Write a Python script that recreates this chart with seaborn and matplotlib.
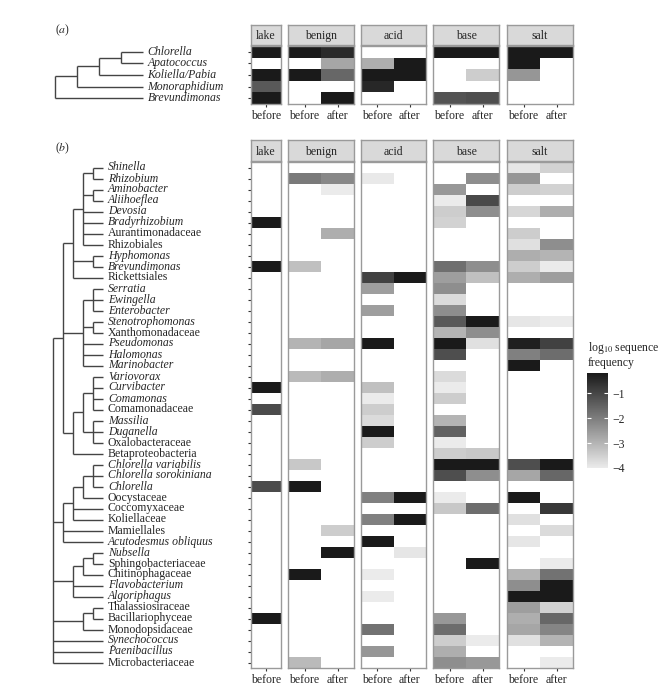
import numpy as np
import pandas as pd
import matplotlib
matplotlib.use("Agg")
import matplotlib.pyplot as plt
import seaborn as sns
from matplotlib.colors import LinearSegmentedColormap
from matplotlib.transforms import blended_transform_factory

sns.set_style("white")
plt.rcParams["font.family"] = ["Liberation Serif", "DejaVu Serif"]
plt.rcParams["mathtext.fontset"] = "stix"

# ---- data ----
conditions = ["lake", "benign", "acid", "base", "salt"]
times = {"lake": ["before"], "benign": ["before", "after"], "acid": ["before", "after"],
         "base": ["before", "after"], "salt": ["before", "after"]}

# panel (a): algae taxa, log10 sequence frequency
taxa_a = ["Chlorella", "Apatococcus", "Koliella/Pabia", "Monoraphidium", "Brevundimonas"]
a_values = {
    ("lake", "before"): {"Chlorella": -0.2, "Koliella/Pabia": -0.2, "Monoraphidium": -1.35, "Brevundimonas": -0.2},
    ("benign", "before"): {"Chlorella": -0.2, "Koliella/Pabia": -0.2},
    ("benign", "after"): {"Chlorella": -0.5, "Apatococcus": -2.75, "Koliella/Pabia": -1.6, "Brevundimonas": -0.2},
    ("acid", "before"): {"Apatococcus": -2.9, "Koliella/Pabia": -0.2, "Monoraphidium": -0.45},
    ("acid", "after"): {"Apatococcus": -0.2, "Koliella/Pabia": -0.2},
    ("base", "before"): {"Chlorella": -0.2, "Brevundimonas": -1.25},
    ("base", "after"): {"Chlorella": -0.2, "Koliella/Pabia": -3.45, "Brevundimonas": -1.15},
    ("salt", "before"): {"Chlorella": -0.2, "Apatococcus": -0.2, "Koliella/Pabia": -2.45},
    ("salt", "after"): {"Chlorella": -0.2},
}
# tree (a): (rank level, children)
tree_a = (0, [(1, [(2, [(3, ["Chlorella", "Apatococcus"]), "Koliella/Pabia"]), "Monoraphidium"]), "Brevundimonas"])

# panel (b)
taxa_b = ["Shinella", "Rhizobium", "Aminobacter", "Aliihoeflea", "Devosia", "Bradyrhizobium",
          "Aurantimonadaceae", "Rhizobiales", "Hyphomonas", "Brevundimonas", "Rickettsiales",
          "Serratia", "Ewingella", "Enterobacter", "Stenotrophomonas", "Xanthomonadaceae",
          "Pseudomonas", "Halomonas", "Marinobacter", "Variovorax", "Curvibacter", "Comamonas",
          "Comamonadaceae", "Massilia", "Duganella", "Oxalobacteraceae", "Betaproteobacteria",
          "Chlorella variabilis", "Chlorella sorokiniana", "Chlorella", "Oocystaceae",
          "Coccomyxaceae", "Koliellaceae", "Mamiellales", "Acutodesmus obliquus", "Nubsella",
          "Sphingobacteriaceae", "Chitinophagaceae", "Flavobacterium", "Algoriphagus",
          "Thalassiosiraceae", "Bacillariophyceae", "Monodopsidaceae", "Synechococcus",
          "Paenibacillus", "Microbacteriaceae"]
upright_b = ["Aurantimonadaceae", "Rhizobiales", "Rickettsiales", "Xanthomonadaceae", "Comamonadaceae",
             "Oxalobacteraceae", "Betaproteobacteria", "Oocystaceae", "Coccomyxaceae", "Koliellaceae",
             "Mamiellales", "Sphingobacteriaceae", "Chitinophagaceae", "Thalassiosiraceae",
             "Bacillariophyceae", "Monodopsidaceae", "Microbacteriaceae"]

b_lake_before = {"Bradyrhizobium": -0.2, "Brevundimonas": -0.2, "Curvibacter": -0.2,
                 "Comamonadaceae": -1.1, "Chlorella": -1.1, "Bacillariophyceae": -0.2}
b_benign_before = {"Rhizobium": -1.95, "Brevundimonas": -3.2, "Pseudomonas": -3.0, "Variovorax": -3.1,
                   "Chlorella variabilis": -3.35, "Chlorella": -0.2, "Chitinophagaceae": -0.2,
                   "Microbacteriaceae": -3.1}
b_benign_after = {"Rhizobium": -2.2, "Aminobacter": -4.0, "Aurantimonadaceae": -2.9, "Pseudomonas": -2.75,
                  "Variovorax": -2.9, "Mamiellales": -3.45, "Nubsella": -0.2}
b_acid_before = {"Rhizobium": -3.95, "Rickettsiales": -0.9, "Serratia": -2.6, "Enterobacter": -2.6,
                 "Pseudomonas": -0.2, "Curvibacter": -3.2, "Comamonas": -4.0, "Comamonadaceae": -3.45,
                 "Massilia": -3.7, "Duganella": -0.2, "Oxalobacteraceae": -3.45, "Oocystaceae": -2.05,
                 "Koliellaceae": -2.05, "Acutodesmus obliquus": -0.2, "Chitinophagaceae": -4.0,
                 "Algoriphagus": -4.0, "Monodopsidaceae": -1.8, "Paenibacillus": -2.45}
b_acid_after = {"Rickettsiales": -0.2, "Oocystaceae": -0.2, "Koliellaceae": -0.2, "Nubsella": -3.9}
b_base_before = {"Aminobacter": -2.5, "Aliihoeflea": -4.0, "Devosia": -3.45, "Bradyrhizobium": -3.55,
                 "Brevundimonas": -1.75, "Rickettsiales": -2.6, "Serratia": -2.3, "Ewingella": -3.7,
                 "Enterobacter": -2.3, "Stenotrophomonas": -1.35, "Xanthomonadaceae": -3.0,
                 "Pseudomonas": -0.2, "Halomonas": -1.15, "Variovorax": -3.7, "Curvibacter": -4.0,
                 "Comamonas": -3.45, "Massilia": -3.0, "Duganella": -1.5, "Oxalobacteraceae": -4.0,
                 "Betaproteobacteria": -3.45, "Chlorella variabilis": -0.2, "Chlorella sorokiniana": -1.15,
                 "Oocystaceae": -4.0, "Coccomyxaceae": -3.35, "Bacillariophyceae": -2.5,
                 "Monodopsidaceae": -1.7, "Synechococcus": -3.45, "Paenibacillus": -2.9,
                 "Microbacteriaceae": -2.3}
b_base_after = {"Rhizobium": -2.3, "Aliihoeflea": -1.05, "Devosia": -2.3, "Brevundimonas": -2.3,
                "Rickettsiales": -3.2, "Stenotrophomonas": -0.2, "Xanthomonadaceae": -2.3,
                "Pseudomonas": -3.8, "Betaproteobacteria": -3.35, "Chlorella variabilis": -0.2,
                "Chlorella sorokiniana": -2.3, "Coccomyxaceae": -1.7, "Sphingobacteriaceae": -0.2,
                "Synechococcus": -4.0, "Microbacteriaceae": -2.5}
b_salt_before = {"Shinella": -3.9, "Rhizobium": -2.45, "Aminobacter": -3.45, "Devosia": -3.6,
                 "Aurantimonadaceae": -3.45, "Rhizobiales": -3.8, "Hyphomonas": -2.9,
                 "Brevundimonas": -3.45, "Rickettsiales": -2.9, "Stenotrophomonas": -3.9,
                 "Pseudomonas": -0.3, "Halomonas": -2.05, "Marinobacter": -0.2,
                 "Chlorella variabilis": -1.15, "Chlorella sorokiniana": -2.75, "Oocystaceae": -0.2,
                 "Koliellaceae": -3.8, "Acutodesmus obliquus": -3.9, "Chitinophagaceae": -3.0,
                 "Flavobacterium": -2.3, "Algoriphagus": -0.2, "Thalassiosiraceae": -2.6,
                 "Bacillariophyceae": -2.9, "Monodopsidaceae": -2.75, "Synechococcus": -3.8}
b_salt_after = {"Shinella": -3.55, "Aminobacter": -3.55, "Devosia": -2.9, "Rhizobiales": -2.3,
                "Hyphomonas": -3.0, "Brevundimonas": -4.0, "Rickettsiales": -2.6, "Stenotrophomonas": -4.0,
                "Pseudomonas": -0.9, "Halomonas": -1.7, "Chlorella variabilis": -0.2,
                "Chlorella sorokiniana": -1.6, "Coccomyxaceae": -0.75, "Mamiellales": -3.7,
                "Sphingobacteriaceae": -4.0, "Chitinophagaceae": -1.8, "Flavobacterium": -0.2,
                "Algoriphagus": -0.2, "Thalassiosiraceae": -3.55, "Bacillariophyceae": -1.6,
                "Monodopsidaceae": -2.15, "Synechococcus": -3.0, "Microbacteriaceae": -4.0}
b_values = {
    ("lake", "before"): b_lake_before,
    ("benign", "before"): b_benign_before, ("benign", "after"): b_benign_after,
    ("acid", "before"): b_acid_before, ("acid", "after"): b_acid_after,
    ("base", "before"): b_base_before, ("base", "after"): b_base_after,
    ("salt", "before"): b_salt_before, ("salt", "after"): b_salt_after,
}

tree_b = (0, [
    (1, [
        (2, [(3, [(4, ["Shinella", "Rhizobium"]), (4, ["Aminobacter", "Aliihoeflea"]),
                  "Devosia", "Bradyrhizobium", "Aurantimonadaceae", "Rhizobiales"]),
             (4, ["Hyphomonas", "Brevundimonas"]), "Rickettsiales"]),
        (3, [(4, ["Serratia", "Ewingella", "Enterobacter"]), (4, ["Stenotrophomonas", "Xanthomonadaceae"]),
             "Pseudomonas", "Halomonas", "Marinobacter"]),
        (2, [(3, [(4, ["Variovorax", "Curvibacter", "Comamonas", "Comamonadaceae"]),
                  (4, ["Massilia", "Duganella", "Oxalobacteraceae"])]), "Betaproteobacteria"]),
    ]),
    (1, [(2, [(3, [(4, ["Chlorella variabilis", "Chlorella sorokiniana", "Chlorella"]), "Oocystaceae"]),
              "Coccomyxaceae", "Koliellaceae"]), "Mamiellales", "Acutodesmus obliquus"]),
    (2, [(3, [(4, ["Nubsella", "Sphingobacteriaceae"]), "Chitinophagaceae"]), "Flavobacterium", "Algoriphagus"]),
    (3, [(4, ["Thalassiosiraceae", "Bacillariophyceae"]), "Monodopsidaceae"]),
    "Synechococcus", "Paenibacillus", "Microbacteriaceae",
])

# ---- layout (pixels) ----
W, H = 671, 692
facet_x = {"lake": (251, 281), "benign": (288, 354), "acid": (361, 426), "base": (433, 499), "salt": (507, 573)}
FS = 8.5
cmap = LinearSegmentedColormap.from_list("grey", ["#ebebeb", "#1a1a1a"])
VMIN, VMAX = -4.0, -0.2
BORDER = "#9a9a9a"


def box(x0, y0, x1, y1):
    return [x0 / W, 1 - y1 / H, (x1 - x0) / W, (y1 - y0) / H]


fig = plt.figure(figsize=(W / 100, H / 100), dpi=100)


def draw_panel(taxa, values, strip_top, top, bottom, cax=None):
    for cond in conditions:
        x0, x1 = facet_x[cond]
        df = pd.DataFrame({t: [values[(cond, t)].get(name, np.nan) for name in taxa] for t in times[cond]},
                          index=taxa)
        ax = fig.add_axes(box(x0, top, x1, bottom))
        use_cbar = cax is not None and cond == "lake"
        sns.heatmap(df, ax=ax, cmap=cmap, vmin=VMIN, vmax=VMAX, cbar=use_cbar,
                    cbar_ax=cax if use_cbar else None, xticklabels=True, yticklabels=False)
        ax.set_facecolor("white")
        for s in ax.spines.values():
            s.set_visible(True)
            s.set_color(BORDER)
            s.set_linewidth(1.0)
        ax.tick_params(axis="x", length=2.5, width=0.8, color="#333333", labelsize=FS, pad=2,
                       labelrotation=0, bottom=True)
        if cond == "lake":
            ax.set_yticks(np.arange(len(taxa)) + 0.5)
            ax.set_yticklabels([])
            ax.tick_params(axis="y", left=True, length=2.5, width=0.8, color="#333333")
        else:
            ax.tick_params(axis="y", left=False)
        ax.set_xlabel("")
        ax.set_ylabel("")
        # facet strip
        sax = fig.add_axes(box(x0, strip_top, x1, top - 1))
        sax.set_facecolor("#d9d9d9")
        sax.set_xticks([])
        sax.set_yticks([])
        for s in sax.spines.values():
            s.set_color(BORDER)
            s.set_linewidth(1.0)
        sax.text(0.5, 0.45, cond, ha="center", va="center", fontsize=FS, transform=sax.transAxes)
    return ax


def draw_tree(node, ax, ypos, xs, leaf_level):
    if isinstance(node, str):
        return ypos[node], xs(leaf_level)
    level, kids = node
    x = xs(level)
    ys = []
    for k in kids:
        ky, kx = draw_tree(k, ax, ypos, xs, leaf_level)
        ax.plot([x, kx], [ky, ky], color="#444444", lw=1.0, solid_capstyle="butt")
        ys.append(ky)
    ax.plot([x, x], [min(ys), max(ys)], color="#444444", lw=1.0, solid_capstyle="butt")
    return (min(ys) + max(ys)) / 2, x


def tree_panel(tree, taxa, top, bottom, x_root, step, leaf_level, italic_fn):
    tax = fig.add_axes(box(0, top, 245, bottom))
    tax.set_xlim(0, 245)
    tax.set_ylim(len(taxa), 0)
    tax.axis("off")
    ypos = {name: i + 0.5 for i, name in enumerate(taxa)}
    draw_tree(tree, tax, ypos, lambda lv: x_root + step * lv, leaf_level)
    leaf_x = x_root + step * leaf_level
    for name in taxa:
        tax.text(leaf_x + 5, ypos[name], name, ha="left", va="center", fontsize=FS,
                 style="italic" if italic_fn(name) else "normal")


# panel (a)
draw_panel(taxa_a, a_values, 25, 46, 104)
tree_panel(tree_a, taxa_a, 46, 104, 54.5, 22, 4, lambda n: True)
fig.text(55 / W, 1 - 30 / H, "($a$)", fontsize=FS, ha="left", va="center")

# panel (b) with colour bar
cax = fig.add_axes(box(587, 373, 608, 468))
draw_panel(taxa_b, b_values, 140, 162, 668, cax=cax)
tree_panel(tree_b, taxa_b, 162, 668, 53, 10, 5, lambda n: n not in upright_b)
fig.text(55 / W, 1 - 148 / H, "($b$)", fontsize=FS, ha="left", va="center")

cbar = cax.collections[0].colorbar if cax.collections and cax.collections[0].colorbar else None
ticks = [-1, -2, -3, -4]
cax.set_yticks(ticks)
cax.set_yticklabels(["\u22121", "\u22122", "\u22123", "\u22124"])
cax.tick_params(axis="y", length=0, labelsize=FS, pad=3)
for s in cax.spines.values():
    s.set_visible(False)
trans = blended_transform_factory(cax.transAxes, cax.transData)
cax.hlines(ticks, 0, 0.2, colors="white", lw=0.8, transform=trans)
cax.hlines(ticks, 0.8, 1.0, colors="white", lw=0.8, transform=trans)
fig.text(588 / W, 1 - 340 / H, "log$_{10}$ sequence\nfrequency", fontsize=FS, ha="left", va="top",
         linespacing=1.15)

fig.savefig("out.png", dpi=100)
